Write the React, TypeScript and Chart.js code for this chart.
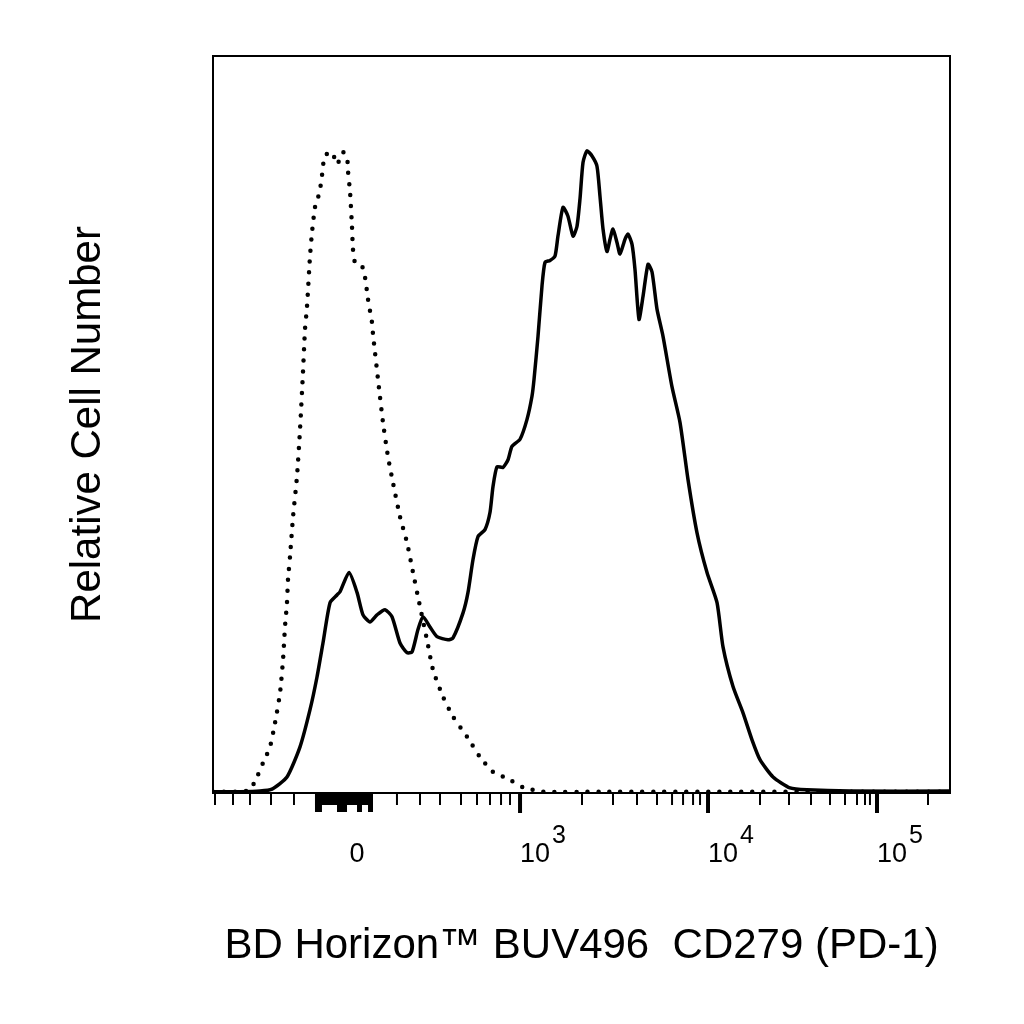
import { useEffect, useRef } from "react"
import { Chart, registerables } from "chart.js"

// x is in display channels (0-1024, biexponential), y is relative count
const SOLID_X = [
  0, 37.5, 65.3, 82.0, 102.8, 120.9, 134.8, 144.5, 152.8, 162.6, 172.3, 176.5, 189.0, 200.1, 208.4, 218.1,
  227.9, 239.0, 248.7, 259.8, 269.5, 276.5, 284.8, 291.8, 301.5, 311.2, 326.5, 333.5, 347.4, 354.3, 361.2,
  368.2, 377.9, 384.9, 389.0, 394.6, 402.9, 409.9, 415.4, 426.6, 436.3, 443.2, 446.0, 451.6, 457.1, 461.3,
  468.2, 475.2, 479.3, 486.3, 493.2, 500.2, 505.7, 509.9, 514.1, 519.6, 526.6, 533.5, 537.7, 541.9, 547.4,
  551.6, 555.8, 561.3, 565.5, 572.4, 576.6, 582.2, 586.3, 591.9, 597.5, 604.4, 610.0, 616.9, 625.2, 637.7,
  648.9, 660.0, 672.5, 686.4, 700.3, 708.6, 722.5, 736.4, 748.9, 760.0, 778.1, 801.7, 825.3, 885.1, 1024,
]
const SOLID_Y = [
  0.2, 0.2, 0.3, 0.6, 2.5, 7.2, 13.0, 18.1, 23.4, 29.7, 30.9, 31.4, 34.4, 31.3, 27.8, 26.7,
  27.8, 28.6, 27.5, 23.4, 21.9, 22.0, 25.5, 27.5, 25.9, 24.4, 23.9, 24.2, 28.1, 31.3, 36.4,
  40.0, 41.1, 43.8, 47.8, 50.9, 50.8, 52.0, 54.1, 55.2, 58.3, 61.9, 64.5, 71.3, 79.1, 82.8,
  83.1, 83.8, 86.9, 91.4, 90.0, 86.9, 88.4, 92.7, 98.4, 100.2, 99.4, 97.8, 93.1, 88.0, 84.5,
  86.4, 88.0, 85.9, 84.1, 86.4, 87.2, 85.6, 81.7, 73.9, 77.5, 82.5, 81.3, 75.5, 71.3, 63.4,
  57.8, 48.9, 40.6, 34.4, 29.7, 22.8, 16.6, 12.5, 8.3, 5.2, 2.5, 0.8, 0.5, 0.3, 0.3,
]

const DOTTED_X = [
  0, 37.5, 51.4, 61.1, 69.5, 79.2, 86.1, 93.1, 97.3, 100.0, 102.8, 104.2, 107.0, 111.2, 116.7, 120.9,
  125.0, 127.8, 130.6, 134.8, 137.6, 141.7, 145.9, 148.7, 151.4, 152.8, 155.6, 165.3, 172.3, 180.6, 186.2,
  187.6, 190.4, 193.1, 194.5, 197.3, 207.0, 211.2, 215.4, 220.9, 222.3, 229.3, 236.2, 243.1, 250.1, 259.8,
  269.5, 277.9, 287.6, 297.3, 305.7, 319.6, 333.5, 352.9, 371.0, 389.0, 408.5, 430.7, 458.5, 537.7, 1024,
]
const DOTTED_Y = [
  0.2, 0.2, 0.5, 2.5, 4.7, 7.2, 10.9, 15.6, 20.8, 25.9, 29.7, 33.3, 36.9, 43.1, 49.4, 56.7,
  65.6, 72.3, 75.9, 83.8, 87.5, 91.4, 92.9, 94.2, 96.3, 97.8, 99.5, 100.0, 98.1, 100.0, 99.2,
  97.0, 93.8, 88.4, 84.8, 82.8, 82.2, 80.5, 77.0, 73.4, 71.6, 64.5, 57.8, 52.5, 48.4, 43.1,
  39.1, 34.4, 29.1, 23.9, 19.2, 15.0, 11.9, 8.8, 5.6, 3.3, 2.3, 0.9, 0.2, 0.2, 0.2,
]

// axis decoration (channels)
const MINOR_TICKS = [
  2.8, 27.8, 51.4, 80.6, 112.5, 255.6, 287.6, 315.4, 344.6, 366.8, 384.9, 400.2, 412.7,
  512.7, 555.8, 589.1, 616.9, 637.8, 653.1, 667.0, 676.7, 760.0, 800.3, 830.9, 857.3,
  878.1, 894.8, 905.9, 912.8, 993.4,
]
const MAJOR_TICKS = [426.6, 687.8, 922.6]
const ZERO_BAND = [141.7, 222.3]
const ZERO_LONG_BANDS = [[141.7, 151.4], [172.3, 186.2], [200.1, 207.0], [215.4, 222.3]]
const LABEL_POS = [200.1, 426.6, 687.8, 922.6]
const LABEL_BASE = ["0", "10", "10", "10"]
const LABEL_EXP = ["", "3", "4", "5"]

const FONT = "'Liberation Sans', Arial, sans-serif"

const flowAxis = {
  id: "flowAxis",
  afterDatasetsDraw(chart: any) {
    const { ctx, chartArea: a } = chart
    const x = chart.scales.x
    ctx.save()
    ctx.strokeStyle = "#000"
    ctx.fillStyle = "#000"
    ctx.lineWidth = 2
    ctx.strokeRect(a.left, a.top, a.right - a.left, a.bottom - a.top)

    const tick = (v: number, len: number, w: number) => {
      const px = x.getPixelForValue(v)
      ctx.lineWidth = w
      ctx.beginPath()
      ctx.moveTo(px, a.bottom)
      ctx.lineTo(px, a.bottom + len)
      ctx.stroke()
    }
    MINOR_TICKS.forEach((v) => tick(v, 12, 2))
    MAJOR_TICKS.forEach((v) => tick(v, 20, 4))

    const z0 = x.getPixelForValue(ZERO_BAND[0])
    const z1 = x.getPixelForValue(ZERO_BAND[1])
    ctx.fillRect(z0, a.bottom, z1 - z0, 12)
    ZERO_LONG_BANDS.forEach(([s, e]) => {
      const p0 = x.getPixelForValue(s)
      const p1 = x.getPixelForValue(e)
      ctx.fillRect(p0, a.bottom, p1 - p0, 19)
    })

    ctx.textBaseline = "alphabetic"
    LABEL_POS.forEach((v, i) => {
      const px = x.getPixelForValue(v)
      ctx.font = `27px ${FONT}`
      if (!LABEL_EXP[i]) {
        ctx.textAlign = "center"
        ctx.fillText(LABEL_BASE[i], px, a.bottom + 69)
        return
      }
      ctx.textAlign = "left"
      ctx.fillText(LABEL_BASE[i], px, a.bottom + 69)
      const w = ctx.measureText(LABEL_BASE[i]).width
      ctx.font = `25px ${FONT}`
      ctx.fillText(LABEL_EXP[i], px + w + 2, a.bottom + 50)
    })
    ctx.restore()
  },
}

export default function App() {
  const canvasRef = useRef<HTMLCanvasElement>(null)

  useEffect(() => {
    document.body.style.margin = "0"
    if (!canvasRef.current) return
    Chart.register(...registerables)

    const chart = new Chart(canvasRef.current, {
      type: "line",
      data: {
        datasets: [
          {
            label: "CD279 (PD-1)",
            data: SOLID_X.map((v, i) => ({ x: v, y: SOLID_Y[i] })),
            borderColor: "#000",
            borderWidth: 3.5,
            pointRadius: 0,
            tension: 0.2,
            fill: false,
          },
          {
            label: "Isotype control",
            data: DOTTED_X.map((v, i) => ({ x: v, y: DOTTED_Y[i] })),
            borderColor: "#000",
            borderWidth: 4.5,
            borderDash: [0, 11],
            borderCapStyle: "round",
            pointRadius: 0,
            tension: 0.2,
            fill: false,
          },
        ],
      },
      options: {
        responsive: false,
        animation: false,
        layout: { padding: { top: 56, right: 74, left: 0, bottom: 0 } },
        plugins: { legend: { display: false }, tooltip: { enabled: false } },
        scales: {
          x: {
            type: "linear",
            min: 0,
            max: 1024,
            grid: { display: false },
            border: { display: false },
            ticks: { display: false },
            afterFit: (scale: any) => {
              scale.height = 231
            },
            title: {
              display: true,
              text: "BD Horizon™ BUV496  CD279 (PD-1)",
              color: "#000",
              font: { family: FONT, size: 42 },
              padding: { top: 0, bottom: 52 },
            },
          },
          y: {
            min: 0,
            max: 115,
            grid: { display: false },
            border: { display: false },
            ticks: { display: false },
            afterFit: (scale: any) => {
              scale.width = 213
            },
            title: {
              display: true,
              text: "Relative Cell Number",
              color: "#000",
              font: { family: FONT, size: 42 },
              padding: { top: 63, bottom: 0 },
            },
          },
        },
      },
      plugins: [flowAxis],
    })

    return () => chart.destroy()
  }, [])

  return (
    <div style={{ width: 1024, height: 1024, background: "#fff" }}>
      <canvas ref={canvasRef} width={1024} height={1024}></canvas>
    </div>
  )
}
